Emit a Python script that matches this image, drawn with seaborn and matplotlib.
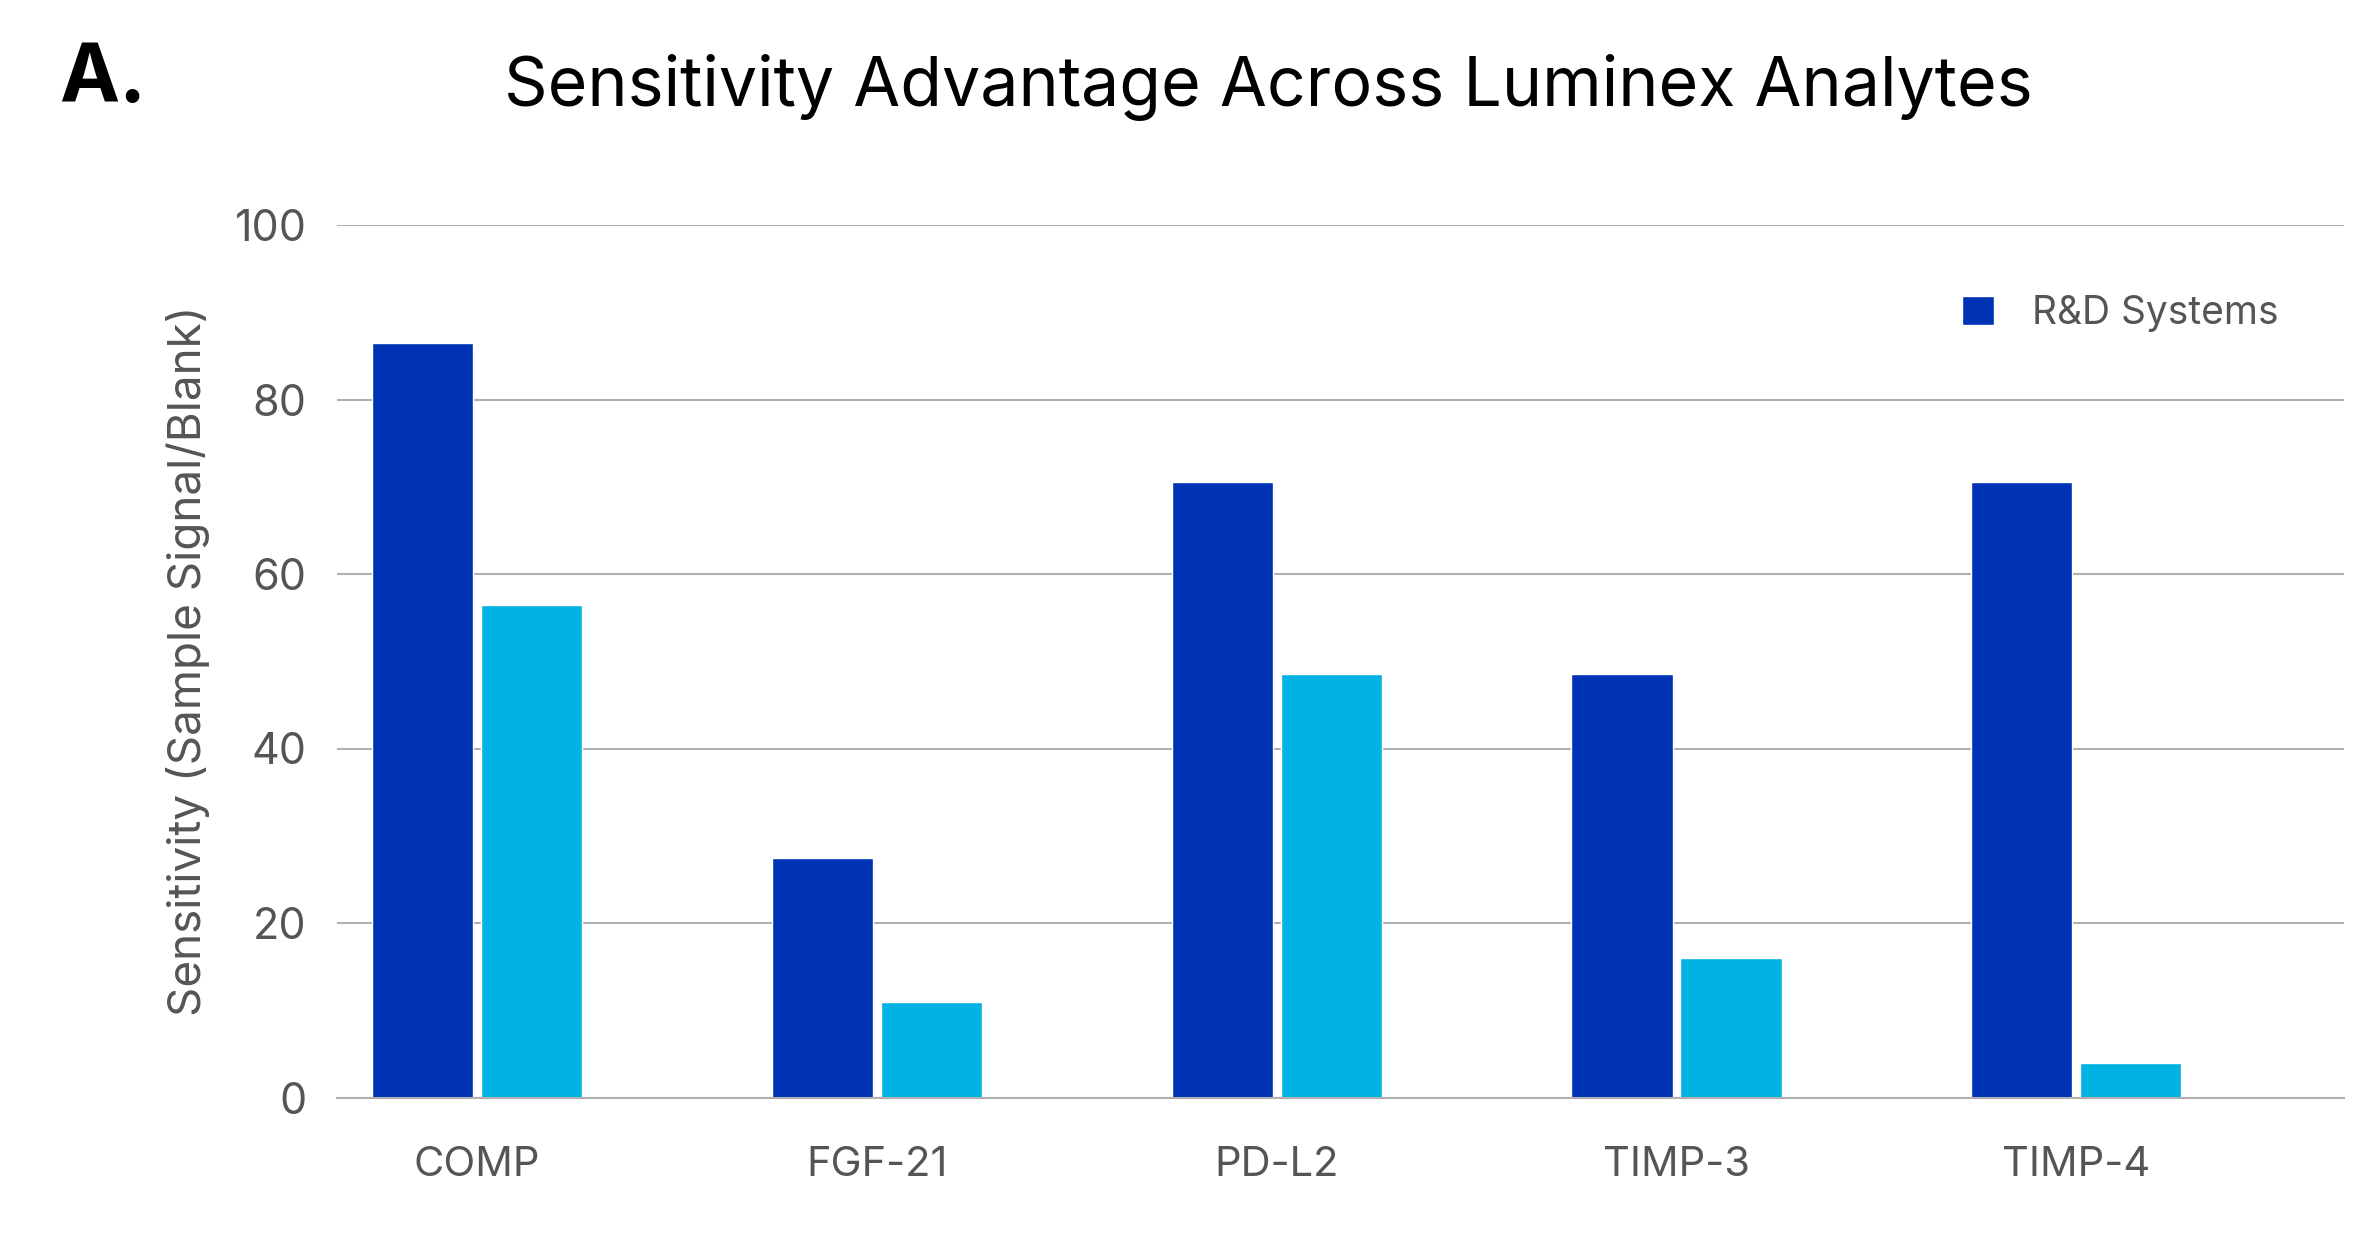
import pandas as pd
import matplotlib
matplotlib.use('Agg')
import matplotlib.pyplot as plt
import seaborn as sns

# Data
analytes = ['COMP', 'FGF-21', 'PD-L2', 'TIMP-3', 'TIMP-4']
rnd = [86.5, 27.5, 70.5, 48.5, 70.5]
competitor = [56.5, 11, 48.5, 16, 4]
series = ['R&D Systems', 'Competitor']

df = pd.DataFrame({
    'analyte': analytes * 2,
    'value': rnd + competitor,
    'series': [series[0]] * 5 + [series[1]] * 5,
})

sns.set_style('white')
plt.rcParams['font.family'] = ['Inter', 'DejaVu Sans']

fig = plt.figure(figsize=(23.75, 12.5), dpi=100)
ax = fig.add_axes([0.142, 0.122, 0.845, 0.698])
sns.barplot(data=df, x='analyte', y='value', hue='series', order=analytes,
            palette=['#0033B4', '#00B3E3'], width=0.545, gap=0.07,
            saturation=1, ax=ax)

ax.set_ylim(0, 100)
ax.set_xlim(-0.35, 4.67)
ax.set_yticks([0, 20, 40, 60, 80, 100])
ax.yaxis.grid(True, color='#b0b0b0', linewidth=1.5)
ax.set_axisbelow(True)
for s in ['top', 'right', 'left']:
    ax.spines[s].set_visible(False)
ax.spines['bottom'].set_color('#b0b0b0')
ax.spines['bottom'].set_linewidth(1.5)
ax.tick_params(axis='y', labelsize=31, colors='#555555', length=0, pad=22)
ax.tick_params(axis='x', labelsize=30, colors='#555555', length=0, pad=35)
ax.set_xlabel('')
ax.set_ylabel('Sensitivity (Sample Signal/Blank)', fontsize=33, color='#555555', labelpad=18)

handles, labels = ax.get_legend_handles_labels()
ax.legend(handles[:1], labels[:1], loc='upper right', bbox_to_anchor=(0.985, 0.96),
          frameon=False, fontsize=28, labelcolor='#555555',
          handlelength=0.8, handleheight=0.8, handletextpad=1.0)

fig.text(0.534, 0.93, 'Sensitivity Advantage Across Luminex Analytes',
         ha='center', va='center', fontsize=49, color='black')
fig.text(0.025, 0.935, 'A.', ha='left', va='center', fontsize=58,
         fontweight='bold', color='black')

fig.savefig('out.png', dpi=100)
